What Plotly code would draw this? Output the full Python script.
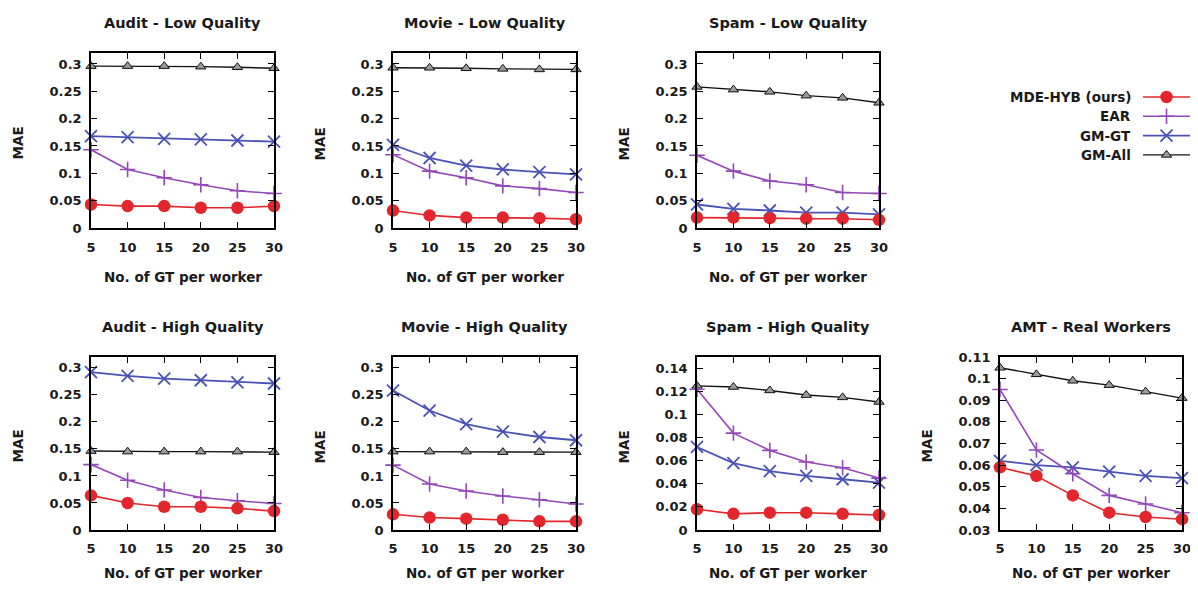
import plotly.graph_objects as go

# ---------------- data ----------------
x_gt = [5, 10, 15, 20, 25, 30]
series_names = ["MDE-HYB (ours)", "EAR", "GM-GT", "GM-All"]
panel_titles = ["Audit - Low Quality", "Movie - Low Quality", "Spam - Low Quality",
                "Audit - High Quality", "Movie - High Quality", "Spam - High Quality",
                "AMT - Real Workers"]
x_title = "No. of GT per worker"
y_title = "MAE"

audit_low_mde = [0.043, 0.040, 0.040, 0.037, 0.037, 0.040]
audit_low_ear = [0.143, 0.107, 0.092, 0.079, 0.068, 0.063]
audit_low_gmgt = [0.168, 0.166, 0.163, 0.162, 0.160, 0.158]
audit_low_gmall = [0.296, 0.296, 0.296, 0.295, 0.294, 0.292]

movie_low_mde = [0.032, 0.023, 0.019, 0.019, 0.018, 0.016]
movie_low_ear = [0.134, 0.104, 0.092, 0.077, 0.072, 0.065]
movie_low_gmgt = [0.152, 0.128, 0.114, 0.107, 0.102, 0.098]
movie_low_gmall = [0.293, 0.293, 0.292, 0.291, 0.290, 0.290]

spam_low_mde = [0.019, 0.019, 0.018, 0.017, 0.017, 0.015]
spam_low_ear = [0.133, 0.104, 0.086, 0.079, 0.065, 0.063]
spam_low_gmgt = [0.043, 0.035, 0.032, 0.028, 0.028, 0.025]
spam_low_gmall = [0.258, 0.253, 0.249, 0.242, 0.238, 0.229]

audit_high_mde = [0.064, 0.050, 0.043, 0.043, 0.040, 0.035]
audit_high_ear = [0.121, 0.092, 0.074, 0.060, 0.054, 0.049]
audit_high_gmgt = [0.292, 0.285, 0.280, 0.277, 0.273, 0.271]
audit_high_gmall = [0.146, 0.145, 0.145, 0.145, 0.145, 0.144]

movie_high_mde = [0.029, 0.023, 0.021, 0.019, 0.016, 0.016]
movie_high_ear = [0.120, 0.085, 0.072, 0.063, 0.056, 0.048]
movie_high_gmgt = [0.258, 0.221, 0.196, 0.182, 0.172, 0.166]
movie_high_gmall = [0.145, 0.145, 0.145, 0.144, 0.144, 0.144]

spam_high_mde = [0.018, 0.014, 0.015, 0.015, 0.014, 0.013]
spam_high_ear = [0.122, 0.084, 0.069, 0.059, 0.054, 0.045]
spam_high_gmgt = [0.072, 0.058, 0.051, 0.047, 0.044, 0.041]
spam_high_gmall = [0.125, 0.124, 0.121, 0.117, 0.115, 0.111]

amt_mde = [0.059, 0.055, 0.046, 0.038, 0.036, 0.035]
amt_ear = [0.095, 0.067, 0.056, 0.046, 0.042, 0.038]
amt_gmgt = [0.062, 0.060, 0.059, 0.057, 0.055, 0.054]
amt_gmall = [0.105, 0.102, 0.099, 0.097, 0.094, 0.091]

panel_values = [
    [audit_low_mde, audit_low_ear, audit_low_gmgt, audit_low_gmall],
    [movie_low_mde, movie_low_ear, movie_low_gmgt, movie_low_gmall],
    [spam_low_mde, spam_low_ear, spam_low_gmgt, spam_low_gmall],
    [audit_high_mde, audit_high_ear, audit_high_gmgt, audit_high_gmall],
    [movie_high_mde, movie_high_ear, movie_high_gmgt, movie_high_gmall],
    [spam_high_mde, spam_high_ear, spam_high_gmgt, spam_high_gmall],
    [amt_mde, amt_ear, amt_gmgt, amt_gmall],
]
y_ranges = [[0, 0.32], [0, 0.32], [0, 0.32], [0, 0.32], [0, 0.32], [0, 0.15], [0.03, 0.11]]
y_dticks = [0.05, 0.05, 0.05, 0.05, 0.05, 0.02, 0.01]

# ---------------- layout / style ----------------
PAGE_W, PAGE_H = 1198, 590
OFF = 8                      # default page body margin
W, H = PAGE_W - 2 * OFF, PAGE_H - 2 * OFF
col_px = [(91, 274), (393, 576), (697, 879), (1000, 1182)]   # page pixels
row_px = [(53, 228), (357, 530)]
xtitle_gap = [49, 43]        # distance box-bottom -> x title centre, per row
tick_standoff = [7, 6]
panel_pos = [(0, 0), (0, 1), (0, 2), (1, 0), (1, 1), (1, 2), (1, 3)]


def px_x(p):
    return (p - OFF) / W


def px_y(p):
    return 1 - (p - OFF) / H


FONT = "DejaVu Sans"
TXT = "#1a1a1a"
styles = [
    dict(color="#e3262b", symbol="circle", size=12.5, mline=0, lw=1.6),
    dict(color="#9447b8", symbol="cross-thin", size=11, mline=1.6, lw=1.6),
    dict(color="#4a52b5", symbol="x-thin", size=12, mline=1.8, lw=1.8),
    dict(color="#111111", symbol="triangle-up", size=9, mline=1.0, lw=1.4),
]


def make_marker(k):
    st = styles[k]
    if k == 3:
        return dict(symbol=st["symbol"], size=st["size"], color="#9a9a9a",
                    line=dict(color=st["color"], width=st["mline"]))
    if k == 0:
        return dict(symbol=st["symbol"], size=st["size"], color=st["color"])
    return dict(symbol=st["symbol"], size=st["size"], color=st["color"],
                line=dict(color=st["color"], width=st["mline"]))


fig = go.Figure()
annotations = []

for p, (vals, title) in enumerate(zip(panel_values, panel_titles)):
    r, c = panel_pos[p]
    x0, x1 = col_px[c]
    y0, y1 = row_px[r]
    ax = "" if p == 0 else str(p + 1)
    xk, yk = "x" + ax, "y" + ax
    for k in reversed(range(4)):
        st = styles[k]
        fig.add_trace(go.Scatter(
            x=x_gt, y=vals[k], mode="lines+markers", name=series_names[k],
            line=dict(color=st["color"], width=st["lw"]), marker=make_marker(k),
            xaxis=xk, yaxis=yk, cliponaxis=False, showlegend=False))
    axis_common = dict(showline=True, mirror="ticks", linecolor="black", linewidth=1.5,
                       ticks="inside", ticklen=6, tickwidth=1.3, tickcolor="black",
                       showgrid=False, zeroline=False, automargin=False,
                       ticklabeloverflow="allow",
                       tickfont=dict(family=FONT, size=13, color=TXT, weight="bold"))
    fig.layout["xaxis" + ax] = dict(
        domain=[px_x(x0), px_x(x1)], anchor=yk, range=[5, 30], tickmode="array",
        tickvals=x_gt, ticklabelstandoff=tick_standoff[r], **axis_common)
    fig.layout["yaxis" + ax] = dict(
        domain=[px_y(y1), px_y(y0)], anchor=xk, range=y_ranges[p],
        dtick=y_dticks[p], tick0=0, ticklabelstandoff=5, **axis_common)
    annotations.append(dict(text=title, xref="paper", yref="paper",
                            x=px_x((x0 + x1) / 2), y=px_y(y0 - 30),
                            xanchor="center", yanchor="middle", showarrow=False,
                            font=dict(family=FONT, size=14.5, color=TXT, weight="bold")))
    annotations.append(dict(text=x_title, xref="paper", yref="paper",
                            x=px_x((x0 + x1) / 2), y=px_y(y1 + xtitle_gap[r]),
                            xanchor="center", yanchor="middle", showarrow=False,
                            font=dict(family=FONT, size=13.5, color=TXT, weight="bold")))
    annotations.append(dict(text=y_title, xref="paper", yref="paper",
                            x=px_x(x0 - 74), y=px_y((y0 + y1) / 2 + 3),
                            xanchor="center", yanchor="middle", textangle=-90,
                            showarrow=False,
                            font=dict(family=FONT, size=13.5, color=TXT, weight="bold")))

# ---------------- custom legend (symbol to the right of text) ----------------
lg_x0, lg_x1, lg_text = 1143, 1190, 1133
row_gap = 19.3
lg_top = 97 - row_gap / 2
fig.layout["xaxis9"] = dict(domain=[px_x(lg_x0), min(px_x(lg_x1), 1.0)], range=[0, 1],
                            visible=False, anchor="y9", fixedrange=True, automargin=False)
fig.layout["yaxis9"] = dict(domain=[px_y(lg_top + 4 * row_gap), px_y(lg_top)],
                            range=[3.5, -0.5], visible=False, anchor="x9", fixedrange=True,
                            automargin=False)
for k, name in enumerate(series_names):
    st = styles[k]
    fig.add_trace(go.Scatter(x=[0, 1], y=[k, k], mode="lines",
                             line=dict(color=st["color"], width=st["lw"]),
                             xaxis="x9", yaxis="y9", showlegend=False, hoverinfo="skip"))
    fig.add_trace(go.Scatter(x=[0.5], y=[k], mode="markers", marker=make_marker(k),
                             xaxis="x9", yaxis="y9", showlegend=False, hoverinfo="skip",
                             cliponaxis=False))
    annotations.append(dict(text=name, xref="paper", yref="y9", x=px_x(lg_text), y=k,
                            xanchor="right", yanchor="middle", showarrow=False,
                            font=dict(family=FONT, size=13.5, color=TXT, weight="bold")))

fig.update_layout(width=W, height=H, margin=dict(l=0, r=0, t=0, b=0, pad=0),
                  paper_bgcolor="white", plot_bgcolor="white",
                  font=dict(family=FONT, size=13, color=TXT),
                  annotations=annotations, showlegend=False)

fig.write_html("out.html")
